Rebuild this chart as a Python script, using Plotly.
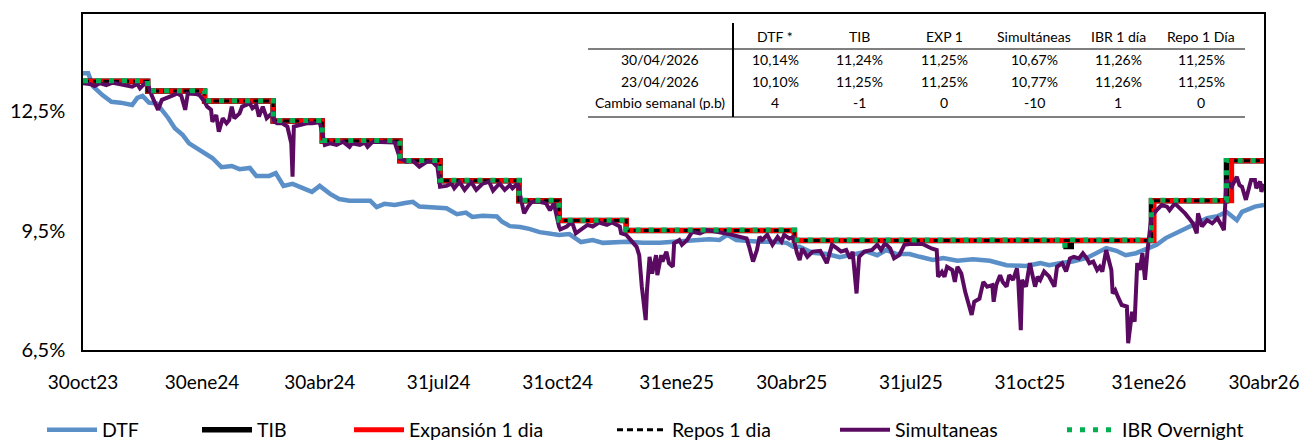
import plotly.graph_objects as go

FONT = "Lato, Carlito, Liberation Sans, sans-serif"

# ---------------- data ----------------
dtf_dates = ["2023-10-30","2023-11-03","2023-11-07","2023-11-14","2023-11-21","2023-11-28","2023-12-07","2023-12-11",
    "2023-12-15","2023-12-20","2023-12-26","2023-12-30","2024-01-04","2024-01-09","2024-01-15","2024-01-20","2024-01-26",
    "2024-02-01","2024-02-07","2024-02-14","2024-02-22","2024-02-28","2024-03-07","2024-03-12","2024-03-22","2024-03-27",
    "2024-04-02","2024-04-09","2024-04-17","2024-04-24","2024-04-30","2024-05-08","2024-05-15","2024-05-23","2024-06-08",
    "2024-06-13","2024-06-19","2024-06-27","2024-07-05","2024-07-11","2024-07-16","2024-07-24","2024-08-06","2024-08-14",
    "2024-08-21","2024-08-26","2024-09-03","2024-09-14","2024-09-18","2024-09-24","2024-10-02","2024-10-09","2024-10-17",
    "2024-10-27","2024-11-01","2024-11-09","2024-11-18","2024-11-27","2024-12-05","2024-12-23","2025-01-05","2025-01-18",
    "2025-01-31","2025-02-12","2025-02-25","2025-03-05","2025-03-11","2025-03-18","2025-03-26","2025-04-05","2025-04-15",
    "2025-04-26","2025-05-01","2025-05-06","2025-05-16","2025-05-27","2025-06-06","2025-06-16","2025-06-27","2025-07-05",
    "2025-07-12","2025-07-20","2025-07-30","2025-08-07","2025-08-17","2025-08-25","2025-09-05","2025-09-17","2025-09-30",
    "2025-10-13","2025-10-28","2025-11-08","2025-11-15","2025-11-23","2025-12-03","2025-12-14","2025-12-22","2025-12-29",
    "2026-01-06","2026-01-13","2026-01-21","2026-01-29","2026-02-06","2026-02-13","2026-02-21","2026-03-02","2026-03-09",
    "2026-03-17","2026-03-25","2026-04-01","2026-04-09","2026-04-13","2026-04-23","2026-04-30"]
dtf_values = [13.45,13.45,13.11,12.90,12.73,12.71,12.65,12.83,
    12.88,12.71,12.69,12.53,12.32,12.07,11.90,11.69,11.57,
    11.44,11.32,11.09,11.12,11.04,11.07,10.87,10.87,10.94,
    10.62,10.67,10.57,10.47,10.62,10.42,10.29,10.25,10.25,
    10.09,10.17,10.14,10.19,10.22,10.10,10.09,10.06,9.91,
    9.95,9.84,9.87,9.85,9.72,9.61,9.59,9.54,9.46,
    9.41,9.39,9.41,9.21,9.26,9.19,9.22,9.19,9.19,
    9.22,9.26,9.28,9.26,9.39,9.26,9.24,9.22,9.22,
    9.19,9.09,9.09,8.94,8.91,8.83,8.91,8.97,8.88,
    9.01,8.91,8.91,8.84,8.76,8.81,8.74,8.78,8.74,
    8.63,8.61,8.68,8.63,8.68,8.72,8.81,8.93,9.06,
    8.99,8.88,8.93,9.04,9.14,9.31,9.44,9.59,9.69,
    9.81,9.86,9.97,9.76,9.97,10.10,10.14]

sim_dates = ["2023-10-30","2023-11-04","2023-11-08","2023-11-12","2023-11-17","2023-11-22","2023-11-27","2023-12-03",
    "2023-12-07","2023-12-11","2023-12-13","2023-12-17","2023-12-19","2023-12-22","2023-12-27","2023-12-30","2024-01-04",
    "2024-01-08","2024-01-11","2024-01-14","2024-01-17","2024-01-19","2024-01-25","2024-01-28","2024-02-01","2024-02-03",
    "2024-02-06","2024-02-07","2024-02-10","2024-02-12","2024-02-15","2024-02-18","2024-02-20","2024-02-22","2024-02-24",
    "2024-02-28","2024-03-01","2024-03-07","2024-03-09","2024-03-12","2024-03-14","2024-03-17","2024-03-20","2024-03-24",
    "2024-03-26","2024-03-28","2024-04-01","2024-04-05","2024-04-08","2024-04-09","2024-04-10","2024-04-14","2024-04-20",
    "2024-04-24","2024-04-30","2024-05-02","2024-05-04","2024-05-08","2024-05-13","2024-05-18","2024-05-23","2024-05-25",
    "2024-05-31","2024-06-04","2024-06-06","2024-06-10","2024-06-21","2024-06-27","2024-07-01","2024-07-06","2024-07-11",
    "2024-07-16","2024-07-22","2024-07-26","2024-07-30","2024-08-01","2024-08-06","2024-08-10","2024-08-12","2024-08-16",
    "2024-08-20","2024-08-25","2024-08-29","2024-09-03","2024-09-08","2024-09-11","2024-09-16","2024-09-20","2024-09-24",
    "2024-09-26","2024-09-30","2024-10-03","2024-10-05","2024-10-08","2024-10-11","2024-10-17","2024-10-22","2024-10-25",
    "2024-10-28","2024-11-01","2024-11-02","2024-11-07","2024-11-11","2024-11-14","2024-11-19","2024-11-23","2024-11-27",
    "2024-12-02","2024-12-08","2024-12-12","2024-12-18","2024-12-19","2024-12-23","2024-12-27","2024-12-31","2025-01-02",
    "2025-01-04","2025-01-07","2025-01-08","2025-01-10","2025-01-12","2025-01-15","2025-01-16","2025-01-19","2025-01-20",
    "2025-01-23","2025-01-25","2025-01-28","2025-01-29","2025-02-02","2025-02-04","2025-02-08","2025-02-12","2025-02-18",
    "2025-02-23","2025-03-03","2025-03-11","2025-03-15","2025-03-21","2025-03-26","2025-03-28","2025-03-31","2025-04-03",
    "2025-04-05","2025-04-07","2025-04-11","2025-04-15","2025-04-19","2025-04-22","2025-04-24","2025-04-28","2025-05-01",
    "2025-05-04","2025-05-06","2025-05-08","2025-05-12","2025-05-16","2025-05-22","2025-05-27","2025-05-31","2025-06-04",
    "2025-06-07","2025-06-11","2025-06-14","2025-06-16","2025-06-17","2025-06-19","2025-06-21","2025-06-25","2025-07-01",
    "2025-07-05","2025-07-08","2025-07-11","2025-07-15","2025-07-18","2025-07-22","2025-07-26","2025-07-30","2025-08-09",
    "2025-08-16","2025-08-20","2025-08-21","2025-08-24","2025-08-26","2025-08-28","2025-09-01","2025-09-03","2025-09-05",
    "2025-09-08","2025-09-11","2025-09-13","2025-09-16","2025-09-18","2025-09-22","2025-09-25","2025-09-28","2025-10-02",
    "2025-10-03","2025-10-05","2025-10-08","2025-10-10","2025-10-13","2025-10-15","2025-10-18","2025-10-21","2025-10-22",
    "2025-10-24","2025-10-25","2025-10-28","2025-10-31","2025-11-02","2025-11-04","2025-11-06","2025-11-08","2025-11-11",
    "2025-11-15","2025-11-19","2025-11-21","2025-11-25","2025-11-28","2025-12-01","2025-12-04","2025-12-08","2025-12-11",
    "2025-12-14","2025-12-16","2025-12-19","2025-12-22","2025-12-24","2025-12-26","2025-12-29","2026-01-02","2026-01-03",
    "2026-01-05","2026-01-07","2026-01-10","2026-01-14","2026-01-15","2026-01-18","2026-01-20","2026-01-22","2026-01-24",
    "2026-01-26","2026-01-28","2026-01-30","2026-02-02","2026-02-06","2026-02-10","2026-02-14","2026-02-16","2026-02-20",
    "2026-02-24","2026-02-28","2026-03-03","2026-03-06","2026-03-09","2026-03-10","2026-03-13","2026-03-17","2026-03-21",
    "2026-03-25","2026-03-28","2026-03-30","2026-04-01","2026-04-05","2026-04-09","2026-04-11","2026-04-13","2026-04-16",
    "2026-04-20","2026-04-23","2026-04-24","2026-04-27","2026-04-28","2026-04-30"]
sim_values = [13.20,13.18,13.13,13.20,13.15,13.21,13.18,13.15,
    13.11,13.18,13.07,13.20,13.18,12.90,12.53,12.78,12.86,
    12.90,12.94,12.88,12.53,12.94,12.93,12.90,12.73,12.61,
    12.53,12.23,12.40,11.98,12.32,12.19,12.27,12.61,12.32,
    12.44,12.61,12.69,12.57,12.65,12.36,12.61,12.32,12.44,
    12.23,12.19,12.19,12.11,11.69,10.85,12.11,12.15,12.19,
    12.19,12.22,11.95,11.65,11.69,11.65,11.73,11.60,11.69,
    11.65,11.71,11.60,11.73,11.73,11.71,11.31,11.23,11.25,
    11.10,11.23,11.23,11.10,10.60,10.62,10.68,10.56,10.72,
    10.52,10.72,10.52,10.68,10.72,10.50,10.68,10.52,10.64,
    10.56,10.68,10.18,9.93,10.10,10.22,10.22,10.18,10.01,
    10.18,9.60,9.53,9.60,9.72,9.43,9.55,9.64,9.60,
    9.70,9.64,9.70,9.60,9.43,9.39,9.22,9.09,8.88,
    8.09,7.25,8.00,8.84,8.42,8.88,8.38,8.88,8.72,
    8.97,8.68,8.59,9.18,9.26,9.14,9.26,9.47,9.43,
    9.51,9.47,9.43,9.39,9.34,9.30,9.09,8.72,9.01,
    9.34,9.26,9.39,9.14,9.34,9.22,9.39,9.30,9.34,
    8.93,8.76,9.05,8.84,8.97,8.99,8.68,9.14,9.05,
    8.97,9.01,8.80,8.97,8.63,7.92,8.84,8.97,9.01,
    9.14,9.01,9.18,9.05,8.80,8.88,9.14,9.16,9.16,
    9.05,9.01,8.34,8.46,8.34,8.59,8.51,8.21,8.59,
    8.42,7.96,7.75,7.38,7.71,7.79,8.21,8.09,8.13,
    7.71,8.13,8.38,8.21,8.09,8.38,8.26,8.55,8.26,
    7.00,8.26,8.09,8.68,8.38,8.09,8.34,8.26,8.47,
    8.34,8.09,8.59,8.68,8.47,8.80,8.84,8.80,8.93,
    8.80,8.68,8.72,8.51,8.59,8.47,9.01,8.51,7.92,
    8.00,7.84,7.63,7.59,6.67,7.46,7.21,8.68,8.51,
    8.93,8.26,9.01,9.85,10.01,10.14,10.10,10.01,10.18,
    10.06,9.93,9.81,9.68,9.43,9.93,9.60,9.76,9.68,
    9.81,9.64,9.51,10.77,10.60,10.85,10.64,10.60,10.27,
    10.77,10.77,10.56,10.73,10.47,10.67]

# policy-type rates (values hold from each date until the next one)
tib_dates = ["2023-10-30","2023-12-19","2024-02-01","2024-03-25","2024-05-02","2024-07-01","2024-08-01","2024-10-01",
    "2024-11-01","2024-12-23","2025-05-02","2025-11-28","2025-12-02","2026-02-02","2026-04-01","2026-04-30"]
tib_values = [13.25,13.00,12.75,12.25,11.75,11.25,10.75,10.25,9.75,9.50,9.25,9.10,9.25,10.25,11.25,11.24]

exp_dates = ["2023-10-30","2023-12-19","2024-02-01","2024-03-25","2024-05-02","2024-07-01","2024-08-01","2024-10-01",
    "2024-11-01","2024-12-23","2025-05-02","2026-02-04","2026-04-05","2026-04-30"]
exp_values = [13.25,13.00,12.75,12.25,11.75,11.25,10.75,10.25,9.75,9.50,9.25,10.25,11.25,11.25]

repo_dates = ["2023-10-30","2023-12-19","2024-02-01","2024-03-25","2024-05-02","2024-07-01","2024-08-01","2024-10-01",
    "2024-11-01","2024-12-23","2025-05-02","2026-02-02","2026-04-01","2026-04-30"]
repo_values = [13.25,13.00,12.75,12.25,11.75,11.25,10.75,10.25,9.75,9.50,9.25,10.25,11.25,11.25]

ibr_dates = ["2023-10-30","2023-12-19","2024-02-01","2024-03-25","2024-05-02","2024-07-01","2024-08-01","2024-10-01",
    "2024-11-01","2024-12-23","2025-05-02","2025-11-27","2025-12-03","2026-02-02","2026-04-01","2026-04-30"]
ibr_values = [13.26,13.01,12.76,12.26,11.76,11.26,10.76,10.26,9.76,9.51,9.26,9.13,9.26,10.26,11.26,11.26]

x_tick_dates = ["2023-10-30","2024-01-30","2024-04-30","2024-07-31","2024-10-31","2025-01-31","2025-04-30",
    "2025-07-31","2025-10-31","2026-01-31","2026-04-30"]
x_tick_labels = ["30oct23","30ene24","30abr24","31jul24","31oct24","31ene25","30abr25","31jul25","31oct25","31ene26","30abr26"]
y_tick_vals = [6.5, 9.5, 12.5]
y_tick_labels = ["6,5%", "9,5%", "12,5%"]

table_header = ["DTF *", "TIB", "EXP 1", "Simultáneas", "IBR 1 día", "Repo 1 Día"]
table_row_labels = ["30/04/2026", "23/04/2026", "Cambio semanal (p.b)"]
table_row1 = ["10,14%", "11,24%", "11,25%", "10,67%", "11,26%", "11,25%"]
table_row2 = ["10,10%", "11,25%", "11,25%", "10,77%", "11,26%", "11,25%"]
table_row3 = ["4", "-1", "0", "-10", "1", "0"]

# ---------------- layout geometry (pixels) ----------------
W, H = 1303, 441
L, R, T, B = 83, 39, 14, 91
PW, PH = W - L - R, H - T - B

def px(xp):
    return (xp - L) / PW

def py(yp):
    return (T + PH - yp) / PH

fig = go.Figure()

fig.add_trace(go.Scatter(x=dtf_dates, y=dtf_values, name="DTF", mode="lines",
                         line=dict(color="#5A8FC8", width=4.5), legend="legend"))
fig.add_trace(go.Scatter(x=tib_dates, y=tib_values, name="TIB", mode="lines", line_shape="hv",
                         line=dict(color="#000000", width=5.5), legend="legend2"))
fig.add_trace(go.Scatter(x=exp_dates, y=exp_values, name="Expansión 1 dia", mode="lines", line_shape="hv",
                         line=dict(color="#FF0000", width=5), legend="legend3"))
fig.add_trace(go.Scatter(x=repo_dates, y=repo_values, name="Repos 1 dia", mode="lines", line_shape="hv",
                         line=dict(color="#000000", width=3, dash="6px,4px"), legend="legend4"))
fig.add_trace(go.Scatter(x=sim_dates, y=sim_values, name="Simultaneas", mode="lines",
                         line=dict(color="#5B0A62", width=4), legend="legend5"))
fig.add_trace(go.Scatter(x=ibr_dates, y=ibr_values, name="IBR Overnight", mode="lines", line_shape="hv",
                         line=dict(color="#00B050", width=5, dash="5px,8px"), legend="legend6"))

leg_x = [45, 200, 352, 615, 838, 1065]
leg_y = 430
legend_common = dict(orientation="h", xanchor="left", yanchor="middle", bgcolor="rgba(0,0,0,0)",
                     font=dict(family=FONT, size=19.5, color="#000000"), itemwidth=50,
                     borderwidth=0, tracegroupgap=0)
layout_legends = {}
for i, lx in enumerate(leg_x):
    key = "legend" if i == 0 else f"legend{i+1}"
    layout_legends[key] = dict(x=px(lx - 3), y=py(leg_y), **legend_common)

# table annotations and lines
col_x = [775, 859, 944, 1034, 1118, 1201]
label_x = 660
row_y = [36, 60, 82, 103]
ann = []
tfont = dict(family=FONT, size=14, color="#000000")
for cx, txt in zip(col_x, table_header):
    ann.append(dict(x=px(cx), y=py(row_y[0]), text=txt))
rows = [table_row1, table_row2, table_row3]
for ri, (lab, vals) in enumerate(zip(table_row_labels, rows)):
    ann.append(dict(x=px(label_x), y=py(row_y[ri + 1]), text=lab))
    for cx, v in zip(col_x, vals):
        ann.append(dict(x=px(cx), y=py(row_y[ri + 1]), text=v))
for a in ann:
    a.update(xref="paper", yref="paper", xanchor="center", yanchor="middle", showarrow=False, font=tfont)

shapes = [
    dict(type="line", xref="paper", yref="paper", x0=px(588), x1=px(1245), y0=py(49), y1=py(49),
         line=dict(color="#000000", width=1)),
    dict(type="line", xref="paper", yref="paper", x0=px(588), x1=px(1245), y0=py(117), y1=py(117),
         line=dict(color="#000000", width=1)),
    dict(type="line", xref="paper", yref="paper", x0=px(733), x1=px(733), y0=py(23), y1=py(117),
         line=dict(color="#000000", width=2)),
]

fig.update_layout(
    width=W, height=H,
    margin=dict(l=L, r=R, t=T, b=B, autoexpand=False),
    paper_bgcolor="#FFFFFF", plot_bgcolor="#FFFFFF",
    font=dict(family=FONT, size=20, color="#000000"),
    showlegend=True,
    annotations=ann,
    shapes=shapes,
    **layout_legends,
)
fig.update_xaxes(type="date", range=["2023-10-30", "2026-04-30"], tickvals=x_tick_dates, ticktext=x_tick_labels,
                 showgrid=False, zeroline=False, showline=True, linecolor="#000000", linewidth=1.5, mirror=True,
                 ticks="", ticklabelstandoff=14, automargin=False,
                 tickfont=dict(family=FONT, size=19, color="#000000"))
fig.update_yaxes(range=[6.5, 6.5 + PH / 39.83], tickvals=y_tick_vals, ticktext=y_tick_labels,
                 showgrid=False, zeroline=False, showline=True, linecolor="#000000", linewidth=1.5, mirror=True,
                 ticks="", ticklabelstandoff=12, automargin=False,
                 tickfont=dict(family=FONT, size=20, color="#000000"))

fig.write_html("out.html", config={"displayModeBar": False},
               post_script="document.body.style.margin='0';document.body.style.padding='0';")
